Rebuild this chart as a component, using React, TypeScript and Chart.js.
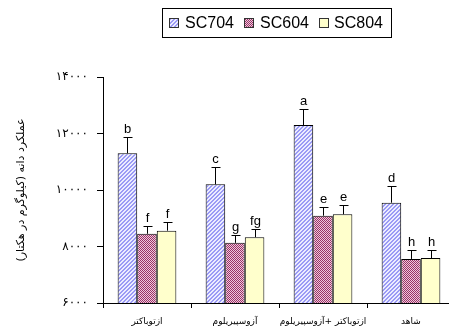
import React, { useEffect, useRef } from "react";
import { Chart, registerables } from "chart.js";

Chart.register(...registerables);

const categories = ["ازتوباکتر", "آزوسپیریلوم", "ازتوباکتر +آزوسپیریلوم", "شاهد"];
const seriesNames = ["SC704", "SC604", "SC804"];
const sc704 = [11300, 10200, 12300, 9550];
const sc604 = [8450, 8130, 9090, 7560];
const sc804 = [8560, 8330, 9140, 7590];
const err704 = [580, 610, 565, 590];
const err604 = [290, 280, 320, 320];
const err804 = [320, 280, 330, 295];
const letters704 = ["b", "c", "a", "d"];
const letters604 = ["f", "g", "e", "h"];
const letters804 = ["f", "fg", "e", "h"];
const yTickLabels: Record<number, string> = {
  6000: "۶۰۰۰",
  8000: "۸۰۰۰",
  10000: "۱۰۰۰۰",
  12000: "۱۲۰۰۰",
  14000: "۱۴۰۰۰",
};
const yTitle = "عملکرد دانه (کیلوگرم در هکتار)";

function makePattern(kind: string): CanvasPattern | string {
  const c = document.createElement("canvas");
  c.width = 4;
  c.height = 4;
  const x = c.getContext("2d")!;
  for (let i = 0; i < 4; i++) {
    for (let j = 0; j < 4; j++) {
      let col = "#ffffff";
      if (kind === "diag") {
        col = (i + j) % 4 === 0 || (i + j) % 4 === 1 ? "#9a9af5" : "#ececff";
      } else if (kind === "check") {
        col = (i + j) % 2 === 0 ? "#993366" : "#efc8dc";
      }
      x.fillStyle = col;
      x.fillRect(i, j, 1, 1);
    }
  }
  return x.createPattern(c, "repeat")!;
}

export default function App() {
  const ref = useRef<HTMLCanvasElement>(null);
  useEffect(() => {
    const canvas = ref.current!;
    const fills = [makePattern("diag"), makePattern("check"), "#ffffcc"];
    const values = [sc704, sc604, sc804];
    const errs = [err704, err604, err804];
    const letters = [letters704, letters604, letters804];

    const overlay = {
      id: "overlay",
      afterDatasetsDraw(chart: any) {
        const ctx = chart.ctx;
        const yScale = chart.scales.y;
        ctx.save();
        values.forEach((vals, di) => {
          const meta = chart.getDatasetMeta(di);
          meta.data.forEach((bar: any, i: number) => {
            const top = yScale.getPixelForValue(vals[i]);
            const etop = Math.round(yScale.getPixelForValue(vals[i] + errs[di][i])) + 0.5;
            const bx = Math.round(bar.x) + 0.5;
            ctx.strokeStyle = "#000";
            ctx.lineWidth = 1;
            ctx.beginPath();
            ctx.moveTo(bx, top);
            ctx.lineTo(bx, etop);
            ctx.moveTo(bx - 4, etop);
            ctx.lineTo(bx + 5, etop);
            ctx.stroke();
            ctx.fillStyle = "#000";
            ctx.font = "13px 'Liberation Sans', Arial, sans-serif";
            ctx.textAlign = "center";
            ctx.textBaseline = "alphabetic";
            ctx.fillText(letters[di][i], bx, etop - 5);
          });
        });
        ctx.save();
        ctx.translate(21, 190);
        ctx.rotate(-Math.PI / 2);
        ctx.font = "11px 'DejaVu Sans', sans-serif";
        ctx.textAlign = "center";
        ctx.textBaseline = "middle";
        ctx.fillStyle = "#000";
        ctx.fillText(yTitle, 0, 0);
        ctx.restore();
        ctx.strokeStyle = "#000";
        ctx.lineWidth = 1;
        ctx.strokeRect(162.5, 8.5, 229, 29);
        const markerX = [169, 244, 319];
        const textX = [185, 260, 334];
        seriesNames.forEach((name, k) => {
          ctx.fillStyle = fills[k];
          ctx.fillRect(markerX[k], 18, 10, 10);
          ctx.strokeStyle = "#333";
          ctx.strokeRect(markerX[k] + 0.5, 18.5, 9, 9);
          ctx.fillStyle = "#000";
          ctx.font = "16px 'Liberation Sans', Arial, sans-serif";
          ctx.textAlign = "left";
          ctx.textBaseline = "middle";
          ctx.fillText(name, textX[k], 23.5);
        });
        ctx.restore();
      },
    };

    const chart = new Chart(canvas, {
      type: "bar",
      data: {
        labels: categories,
        datasets: seriesNames.map((name, k) => ({
          label: name,
          data: values[k],
          backgroundColor: fills[k] as any,
          borderColor: "#000",
          borderWidth: 1,
          categoryPercentage: 0.667,
          barPercentage: 1,
        })),
      },
      options: {
        responsive: false,
        animation: false,
        layout: { padding: { top: 77, right: 1, left: 0, bottom: 0 } },
        plugins: { legend: { display: false }, tooltip: { enabled: false } },
        scales: {
          x: {
            afterFit(scale: any) {
              scale.height = 30;
            },
            grid: {
              display: true,
              drawOnChartArea: false,
              drawTicks: true,
              tickLength: 5,
              color: "#000",
              offset: true,
            },
            border: { display: true, color: "#000" },
            ticks: {
              color: "#000",
              font: { family: "'DejaVu Sans', sans-serif", size: 9 },
              padding: 8,
              maxRotation: 0,
              autoSkip: false,
            },
          },
          y: {
            min: 6000,
            max: 14000,
            afterFit(scale: any) {
              scale.width = 103;
            },
            grid: {
              display: true,
              drawOnChartArea: false,
              drawTicks: true,
              tickLength: 6,
              color: "#000",
            },
            border: { display: true, color: "#000" },
            ticks: {
              stepSize: 2000,
              color: "#000",
              padding: 9,
              font: { family: "'DejaVu Sans', sans-serif", size: 12 },
              callback: (v: any) => yTickLabels[v as number] ?? "",
            },
          },
        },
      },
      plugins: [overlay],
    });
    return () => chart.destroy();
  }, []);

  return (
    <div
      style={{
        position: "fixed",
        left: 0,
        top: 0,
        width: 449,
        height: 333,
        overflow: "hidden",
        background: "#fff",
      }}
    >
      <canvas ref={ref} width={456} height={333} style={{ display: "block" }} />
    </div>
  );
}
